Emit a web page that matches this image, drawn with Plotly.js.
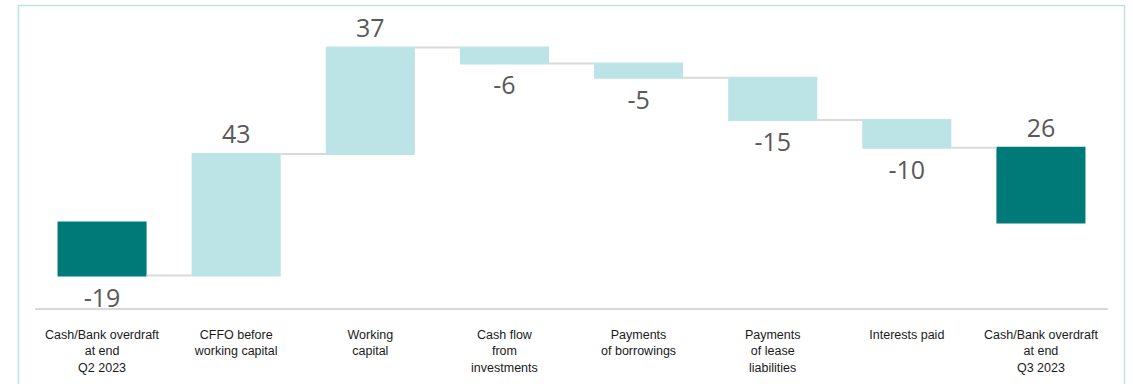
<!DOCTYPE html>
<html>
<head>
<meta charset="utf-8">
<script src="https://cdn.plot.ly/plotly-3.0.1.min.js"></script>
<style>
  html, body { margin: 0; padding: 0; background: #ffffff; }
  #chart { width: 1133px; height: 384px; }
</style>
</head>
<body>
<div id="chart"></div>
<script>
// Categories (tick labels)
const categories = [
  "Cash/Bank overdraft<br>at end<br>Q2 2023",
  "CFFO before<br>working capital",
  "Working<br>capital",
  "Cash flow<br>from<br>investments",
  "Payments<br>of borrowings",
  "Payments<br>of lease<br>liabilities",
  "Interests paid",
  "Cash/Bank overdraft<br>at end<br>Q3 2023"
];
// Measures of each bar
const measures = ["absolute", "relative", "relative", "relative", "relative", "relative", "relative", "total"];
// Values (the total is computed by the waterfall)
const values = [-18.6, 42.6, 37.4, -5.6, -5.0, -14.8, -9.8, 0];
// Value labels as printed on the chart
const valueLabels = ["-19", "43", "37", "-6", "-5", "-15", "-10", "26"];

const trace = {
  type: "waterfall",
  x: categories,
  y: values,
  measure: measures,
  text: valueLabels,
  textposition: "outside",
  textfont: { family: "Open Sans, sans-serif", size: 25, color: "#595959" },
  cliponaxis: false,
  constraintext: "none",
  hoverinfo: "skip",
  increasing: { marker: { color: "#bce3e5", line: { width: 0 } } },
  decreasing: { marker: { color: "#bce3e5", line: { width: 0 } } },
  totals: { marker: { color: "#007a78", line: { width: 0 } } },
  connector: { mode: "between", line: { color: "#d9d9d9", width: 2 } }
};

const layout = {
  width: 1133,
  height: 384,
  margin: { l: 35, r: 25, t: 10, b: 76 },
  paper_bgcolor: "#ffffff",
  plot_bgcolor: "#ffffff",
  showlegend: false,
  waterfallgap: 0.336,
  font: { family: "Liberation Sans, Arial, sans-serif", size: 12, color: "#1a1a1a" },
  xaxis: {
    type: "category",
    showgrid: false,
    zeroline: false,
    showline: true,
    linecolor: "#d9d9d9",
    linewidth: 2,
    ticks: "",
    ticklabelstandoff: 14,
    tickfont: { family: "Liberation Sans, Arial, sans-serif", size: 12.5, color: "#1a1a1a" },
    fixedrange: true
  },
  yaxis: {
    range: [-30, 74.56],
    showgrid: false,
    zeroline: false,
    showline: false,
    showticklabels: false,
    ticks: "",
    fixedrange: true
  },
  shapes: [
    {
      type: "path",
      xref: "paper", yref: "paper",
      path: "M -0.0154,-0.4 L -0.0154,1.0151 L 1.0154,1.0151 L 1.0154,-0.4",
      line: { color: "#bde3e3", width: 1.5 },
      layer: "below"
    }
  ]
};

Plotly.newPlot("chart", [trace], layout, { displayModeBar: false, staticPlot: true });
</script>
</body>
</html>
